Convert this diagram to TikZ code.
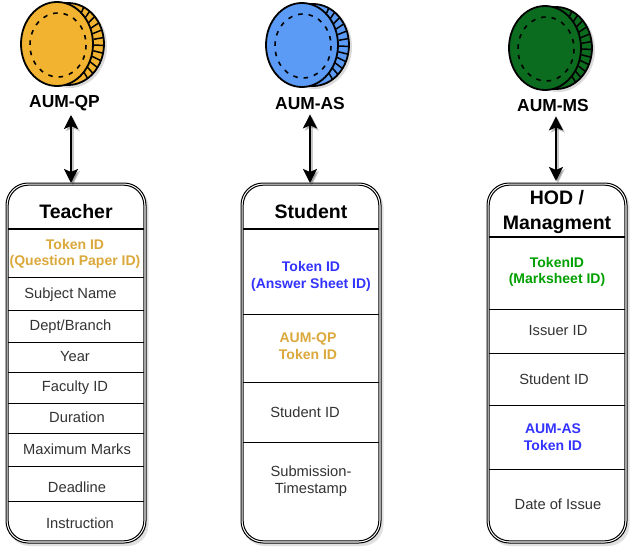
\documentclass[tikz,border=0pt]{standalone}
\usepackage{fontspec}
\setmainfont{Liberation Sans}
\usetikzlibrary{arrows.meta,calc}
\definecolor{qpfill}{HTML}{F2B430}
\definecolor{qptext}{HTML}{DBA83A}
\definecolor{asfill}{HTML}{5B9BF5}
\definecolor{astext}{HTML}{3333FF}
\definecolor{msfill}{HTML}{0B6B1E}
\definecolor{mstext}{HTML}{00A000}
\definecolor{bodytext}{HTML}{333333}
% The reference's blurred text shadows are left out on purpose: each text is printed once.
\tikzset{
  x=1pt,y=-1pt,
  coinname/.style={font=\bfseries\fontsize{17.4}{20}\selectfont,inner sep=0pt,align=center,text=black},
  head/.style={font=\bfseries\fontsize{19.5}{25}\selectfont,inner sep=0pt,align=center,text=black},
  cell/.style={font=\fontsize{14.7}{17}\selectfont,inner sep=0pt,align=center,text=bodytext},
  token/.style={font=\bfseries\fontsize{14}{16.5}\selectfont,inner sep=0pt,align=center},
  link/.style={line width=2.2pt,{Stealth[length=14pt,width=14pt,inset=3pt]}-{Stealth[length=14pt,width=14pt,inset=3pt]}},
  linkshade/.style={link,draw=black,opacity=.22},
  rowline/.style={line width=0.8pt},
  headline/.style={line width=2.2pt},
}
% #1 style, #2 name, #3 x, #4 y, #5 text
\newcommand{\lbl}[5]{\node[#1] (#2) at (#3,#4) {#5};}
% #1 x offset, #2 y offset, #3 fill colour
\newcommand{\coinshape}[3]{%
  \begin{scope}[shift={(#1,#2)}]
    \fill[black!40,opacity=.35] (70,45) ellipse (37 and 42);
    \fill[#3,draw=black,line width=1.8pt] (68,43) ellipse (36 and 41);
    \foreach \a in {-64,-53,...,64}{
      \draw[line width=1.5pt] ($(68,43)+({\a}:26 and 30)$) -- ($(68,43)+({\a}:36 and 41)$);
    }
    \fill[#3,draw=black,line width=1.8pt] (57,43) ellipse (36 and 42);
    \draw[line width=1.6pt,dash pattern=on 4.5pt off 6pt] (58,44) ellipse (28 and 32);
  \end{scope}}
% #1 name, #2 left, #3 right, #4 top, #5 bottom
\newcommand{\panel}[5]{%
  \fill[black!30,opacity=.4,rounded corners=21pt] (#2+2.5,#4+3) rectangle (#3+2.5,#5+3);
  \draw[fill=white,line width=1pt,rounded corners=22pt] (#2,#4) rectangle (#3,#5);
  \draw[line width=1pt,rounded corners=20pt] (#2+2.2,#4+2.2) rectangle (#3-2.2,#5-2.2);
  \coordinate (#1L) at (#2+2.2,#4);
  \coordinate (#1R) at (#3-2.2,#4);}
\newcommand{\rowline}[2]{\draw[rowline] (#1L |- 0,#2) -- (#1R |- 0,#2);}
\newcommand{\headline}[2]{\draw[headline] (#1L |- 0,#2) -- (#1R |- 0,#2);}
\newcommand{\arrowlink}[2]{%
  \draw[linkshade,transform canvas={shift={(1.8pt,-2.2pt)}}] ([yshift=-4pt]#1.south -| #2) -- (#2);
  \draw[link] ([yshift=-4pt]#1.south -| #2) -- (#2);}
\begin{document}
\begin{tikzpicture}
\useasboundingbox (0,0) rectangle (641,554);
\coinshape{0}{1}{qpfill}
\coinshape{245}{2}{asfill}
\coinshape{488}{5}{msfill}

\lbl{coinname}{nqp}{64.5}{103}{AUM-QP}
\lbl{coinname}{nas}{310}{104}{AUM-AS}
\lbl{coinname}{nms}{553}{106}{AUM-MS}

% Teacher
\panel{t}{6}{146}{183}{543}
\coordinate (ttop) at (71,183);
\lbl{head}{th}{76}{212}{Teacher}
\headline{t}{229}
\lbl{token,text=qptext}{t1}{75}{254}{Token ID\\(Question Paper ID)}
\rowline{t}{277}
\lbl{cell}{t2}{70.5}{295}{Subject Name}
\rowline{t}{310}
\lbl{cell}{t3}{70.5}{327}{Dept/Branch}
\rowline{t}{342}
\lbl{cell}{t4}{75}{357}{Year}
\rowline{t}{372}
\lbl{cell}{t5}{75}{388}{Faculty ID}
\rowline{t}{403}
\lbl{cell}{t6}{77}{417}{Duration}
\rowline{t}{433}
\lbl{cell}{t7}{77}{449}{Maximum Marks}
\rowline{t}{466}
\lbl{cell}{t8}{77}{487}{Deadline}
\rowline{t}{501}
\lbl{cell}{t9}{80}{523}{Instruction}

% Student
\panel{s}{241}{381}{183}{543}
\coordinate (stop) at (310,183);
\lbl{head}{sh}{311}{212}{Student}
\headline{s}{229}
\lbl{token,text=astext}{s1}{311}{276.5}{Token ID\\(Answer Sheet ID)}
\rowline{s}{314}
\lbl{token,text=qptext}{s2}{308}{346}{AUM-QP\\Token ID}
\rowline{s}{382}
\lbl{cell}{s3}{305}{412}{Student ID}
\rowline{s}{442}
\lbl{cell}{s4}{311}{481}{Submission-\\Timestamp}

% HOD
\panel{h}{487}{627}{183}{543}
\coordinate (htop) at (556,181);
\lbl{head}{hh}{557}{212}{HOD /\\Managment}
\headline{h}{237}
\lbl{token,text=mstext}{h1}{557}{272}{TokenID\\(Marksheet ID)}
\rowline{h}{309}
\lbl{cell}{h2}{558}{331}{Issuer ID}
\rowline{h}{353}
\lbl{cell}{h3}{554}{379}{Student ID}
\rowline{h}{405}
\lbl{token,text=astext}{h4}{553}{437}{AUM-AS\\Token ID}
\rowline{h}{469}
\lbl{cell}{h5}{558}{504}{Date of Issue}

\arrowlink{nqp}{ttop}
\arrowlink{nas}{stop}
\arrowlink{nms}{htop}
\end{tikzpicture}
\end{document}
